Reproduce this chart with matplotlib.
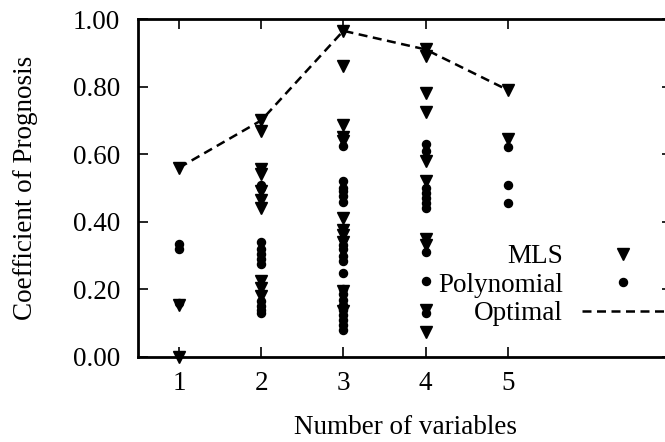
"""Coefficient of prognosis vs number of variables (MLS / polynomial / optimal)."""

import matplotlib
matplotlib.use("Agg")
import matplotlib.pyplot as plt
from matplotlib.ticker import FormatStrFormatter

plt.rcParams["font.family"] = ["Liberation Serif", "DejaVu Serif"]

# values, one list per number of variables
MLS = {
    1: [0.56, 0.155, 0.0],
    2: [0.70, 0.67, 0.555, 0.54, 0.49, 0.465, 0.44, 0.225, 0.205, 0.18],
    3: [0.965, 0.86, 0.685, 0.65, 0.64, 0.41, 0.375, 0.36, 0.34, 0.195, 0.135],
    4: [0.91, 0.89, 0.78, 0.725, 0.58, 0.52, 0.35, 0.33, 0.14, 0.075],
    5: [0.79, 0.645],
}
POLY = {
    1: [0.335, 0.32, 0.16],
    2: [0.51, 0.50, 0.34, 0.32, 0.305, 0.29, 0.275, 0.165, 0.15, 0.14, 0.13],
    3: [0.625, 0.52, 0.50, 0.49, 0.475, 0.46, 0.35, 0.33, 0.32, 0.30, 0.285,
        0.25, 0.20, 0.185, 0.17, 0.155, 0.14, 0.125, 0.11, 0.095, 0.08],
    4: [0.63, 0.61, 0.50, 0.485, 0.47, 0.455, 0.44, 0.31, 0.225, 0.13],
    5: [0.62, 0.51, 0.455],
}
OPT_X = [1, 2, 3, 4, 5]
OPT_Y = [0.56, 0.70, 0.965, 0.91, 0.79]
X_TICKS = [1, 2, 3, 4, 5]
Y_TICKS = [0.0, 0.2, 0.4, 0.6, 0.8, 1.0]

W, H = 665, 442
fig = plt.figure(figsize=(W / 100, H / 100), dpi=100)
# plot box: x 138..672 px, y 19..357 px (right border falls just outside)
ax = fig.add_axes([138 / W, (H - 357) / H, (672 - 138) / W, (357 - 19) / H])

FS = 19.5

mx = [k for k, v in MLS.items() for _ in v]
my = [y for v in MLS.values() for y in v]
px = [k for k, v in POLY.items() for _ in v]
py = [y for v in POLY.values() for y in v]

ax.plot(mx, my, linestyle="none", marker="v", ms=8.5, color="black",
        label="MLS", clip_on=False, zorder=3)
ax.plot(px, py, linestyle="none", marker="o", ms=5.8, color="black",
        label="Polynomial", clip_on=False, zorder=3)
ax.plot(OPT_X, OPT_Y, color="black", lw=1.8, dashes=(3.6, 2.2),
        label="Optimal", zorder=2)

ax.set_xlim(0.5, 7)
ax.set_ylim(0, 1)
ax.set_xticks(X_TICKS)
ax.set_yticks(Y_TICKS)
ax.yaxis.set_major_formatter(FormatStrFormatter("%.2f"))
ax.tick_params(direction="in", length=7, width=1.2, top=True, right=True,
               labelsize=FS)
ax.tick_params(axis="y", pad=13)
ax.tick_params(axis="x", pad=10)
for sp in ax.spines.values():
    sp.set_linewidth(2)

ax.set_xlabel("Number of variables", fontsize=FS, labelpad=14)
ax.set_ylabel("Coefficient of Prognosis", fontsize=FS, labelpad=25)

leg = ax.legend(loc="center right", bbox_to_anchor=(0.987, 0.212),
                frameon=False, markerfirst=False, fontsize=FS,
                handlelength=3.07, handletextpad=0.7, labelspacing=0.13,
                borderpad=0, borderaxespad=0)

fig.savefig("out.png", dpi=100)
